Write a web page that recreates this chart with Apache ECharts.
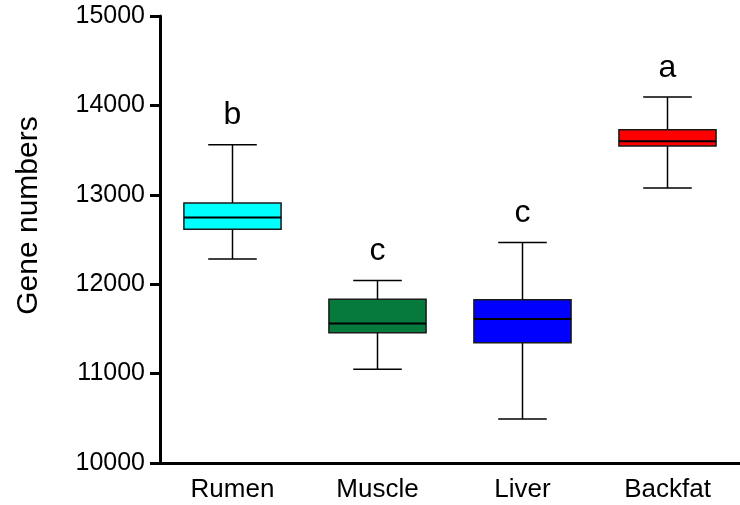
<!DOCTYPE html>
<html>
<head>
<meta charset="utf-8">
<script src="https://cdn.jsdelivr.net/npm/echarts@6/dist/echarts.min.js"></script>
<style>
  html, body { margin: 0; padding: 0; background: #fff; }
  #main { width: 740px; height: 505px; }
</style>
</head>
<body>
<div id="main"></div>
<script>
// data
var categories = ['Rumen', 'Muscle', 'Liver', 'Backfat'];
var whiskerLow = [12283, 11050, 10492, 13076];
var q1 = [12615, 11456, 11344, 13545];
var median = [12745, 11561, 11612, 13598];
var q3 = [12908, 11832, 11825, 13728];
var whiskerHigh = [13561, 12041, 12466, 14093];
var letters = ['b', 'c', 'c', 'a'];
var boxColors = ['#00FFFF', '#06793D', '#0000FF', '#FF0000'];

var font = 'Liberation Sans, Arial, sans-serif';

var myChart = echarts.init(document.getElementById('main'));

var seriesData = categories.map(function (c, i) {
  return [i, whiskerLow[i], q1[i], median[i], q3[i], whiskerHigh[i]];
});

function renderBox(params, api) {
  var i = api.value(0);
  var pLow = api.coord([i, api.value(1)]);
  var pQ1 = api.coord([i, api.value(2)]);
  var pMed = api.coord([i, api.value(3)]);
  var pQ3 = api.coord([i, api.value(4)]);
  var pHigh = api.coord([i, api.value(5)]);
  var band = api.size([1, 0])[0];
  var boxW = band * 0.67;
  var capW = boxW / 2;
  var cx = pMed[0];
  var line = { stroke: '#000', lineWidth: 1.5 };
  return {
    type: 'group',
    children: [
      { type: 'line', shape: { x1: cx, y1: pHigh[1], x2: cx, y2: pQ3[1] }, style: line },
      { type: 'line', shape: { x1: cx, y1: pQ1[1], x2: cx, y2: pLow[1] }, style: line },
      { type: 'line', shape: { x1: cx - capW / 2, y1: pHigh[1], x2: cx + capW / 2, y2: pHigh[1] }, style: line },
      { type: 'line', shape: { x1: cx - capW / 2, y1: pLow[1], x2: cx + capW / 2, y2: pLow[1] }, style: line },
      {
        type: 'rect',
        shape: { x: cx - boxW / 2, y: pQ3[1], width: boxW, height: pQ1[1] - pQ3[1] },
        style: { fill: boxColors[i], stroke: '#1a1a1a', lineWidth: 1.5 }
      },
      { type: 'line', shape: { x1: cx - boxW / 2, y1: pMed[1], x2: cx + boxW / 2, y2: pMed[1] }, style: { stroke: '#000', lineWidth: 2 } },
      {
        type: 'text',
        style: {
          text: letters[i], x: cx, y: pHigh[1] - 29,
          align: 'center', verticalAlign: 'middle',
          fontSize: 32, fontFamily: font, fill: '#000'
        }
      }
    ]
  };
}

var option = {
  animation: false,
  backgroundColor: '#fff',
  grid: { left: 160, top: 16, width: 585, height: 447 },
  xAxis: {
    type: 'category',
    data: categories,
    boundaryGap: true,
    axisLine: { lineStyle: { color: '#000', width: 3 } },
    axisTick: { alignWithLabel: true, length: 10, lineStyle: { color: '#000', width: 3 } },
    axisLabel: { color: '#000', fontSize: 26, fontFamily: font, margin: 14 }
  },
  yAxis: {
    type: 'value',
    min: 10000,
    max: 15000,
    interval: 1000,
    name: 'Gene numbers',
    nameLocation: 'middle',
    nameGap: 116,
    nameTextStyle: { color: '#000', fontSize: 30, fontFamily: font, padding: [0, 0, 0, 48] },
    axisLine: { show: true, lineStyle: { color: '#000', width: 3 } },
    axisTick: { show: true, length: 10, lineStyle: { color: '#000', width: 3 } },
    axisLabel: {
      color: '#000', fontSize: 25, fontFamily: font, margin: 15,
      formatter: function (v) { return String(v); }
    },
    splitLine: { show: false }
  },
  series: [{
    type: 'custom',
    renderItem: renderBox,
    encode: { x: 0, y: [1, 2, 3, 4, 5] },
    data: seriesData
  }]
};
myChart.setOption(option);
</script>
</body>
</html>
